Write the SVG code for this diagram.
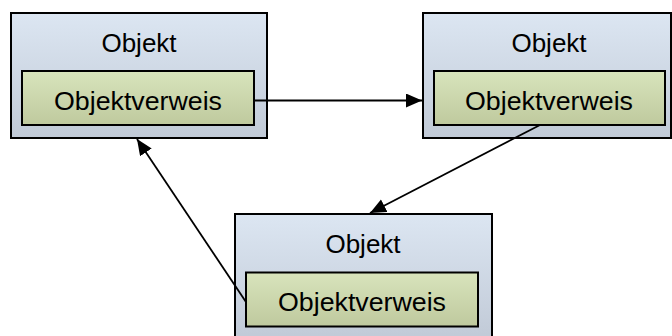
<svg xmlns="http://www.w3.org/2000/svg" width="672" height="336" viewBox="0 0 672 336">
  <defs>
    <linearGradient id="gOuter" x1="0" y1="0" x2="0" y2="1">
      <stop offset="0" stop-color="#dce6f2"/>
      <stop offset="1" stop-color="#c1cad7"/>
    </linearGradient>
    <linearGradient id="gInner" x1="0" y1="0" x2="0" y2="1">
      <stop offset="0" stop-color="#d8e4bc"/>
      <stop offset="1" stop-color="#bfc99e"/>
    </linearGradient>
    <marker id="arrow" markerUnits="userSpaceOnUse" markerWidth="17" markerHeight="15" refX="16" refY="7" orient="auto">
      <path d="M0,0 L16,7 L0,14 Z" fill="#000"/>
    </marker>
    <style>
      .outer { fill: url(#gOuter); stroke: #000; stroke-width: 2; }
      .inner { fill: url(#gInner); stroke: #000; stroke-width: 2; }
      .lbl { font-family: "Liberation Sans", Arial, sans-serif; font-size: 26px; fill: #000; text-anchor: middle; }
      .conn { stroke: #000; stroke-width: 1.8; fill: none; marker-end: url(#arrow); }
    </style>
  </defs>

  <g id="node1">
    <rect class="outer" x="11" y="13" width="256" height="125"/>
    <text class="lbl" x="139" y="52">Objekt</text>
    <rect class="inner" x="22" y="71" width="232" height="54"/>
    <text class="lbl" x="138" y="110" textLength="168" lengthAdjust="spacingAndGlyphs">Objektverweis</text>
  </g>

  <g id="node2">
    <rect class="outer" x="423" y="13" width="248" height="125"/>
    <text class="lbl" x="549" y="52">Objekt</text>
    <rect class="inner" x="434" y="71" width="231" height="54"/>
    <text class="lbl" x="549" y="110" textLength="168" lengthAdjust="spacingAndGlyphs">Objektverweis</text>
  </g>

  <g id="node3">
    <rect class="outer" x="235" y="214" width="257" height="125"/>
    <text class="lbl" x="363" y="253">Objekt</text>
    <rect class="inner" x="246" y="272.5" width="232" height="54"/>
    <text class="lbl" x="362" y="311" textLength="168" lengthAdjust="spacingAndGlyphs">Objektverweis</text>
  </g>

  <g id="connectors">
    <line class="conn" x1="254" y1="100.5" x2="422" y2="100.5"/>
    <line class="conn" x1="540" y1="125" x2="370" y2="213"/>
    <line class="conn" x1="246" y1="302" x2="137" y2="139"/>
  </g>
</svg>
